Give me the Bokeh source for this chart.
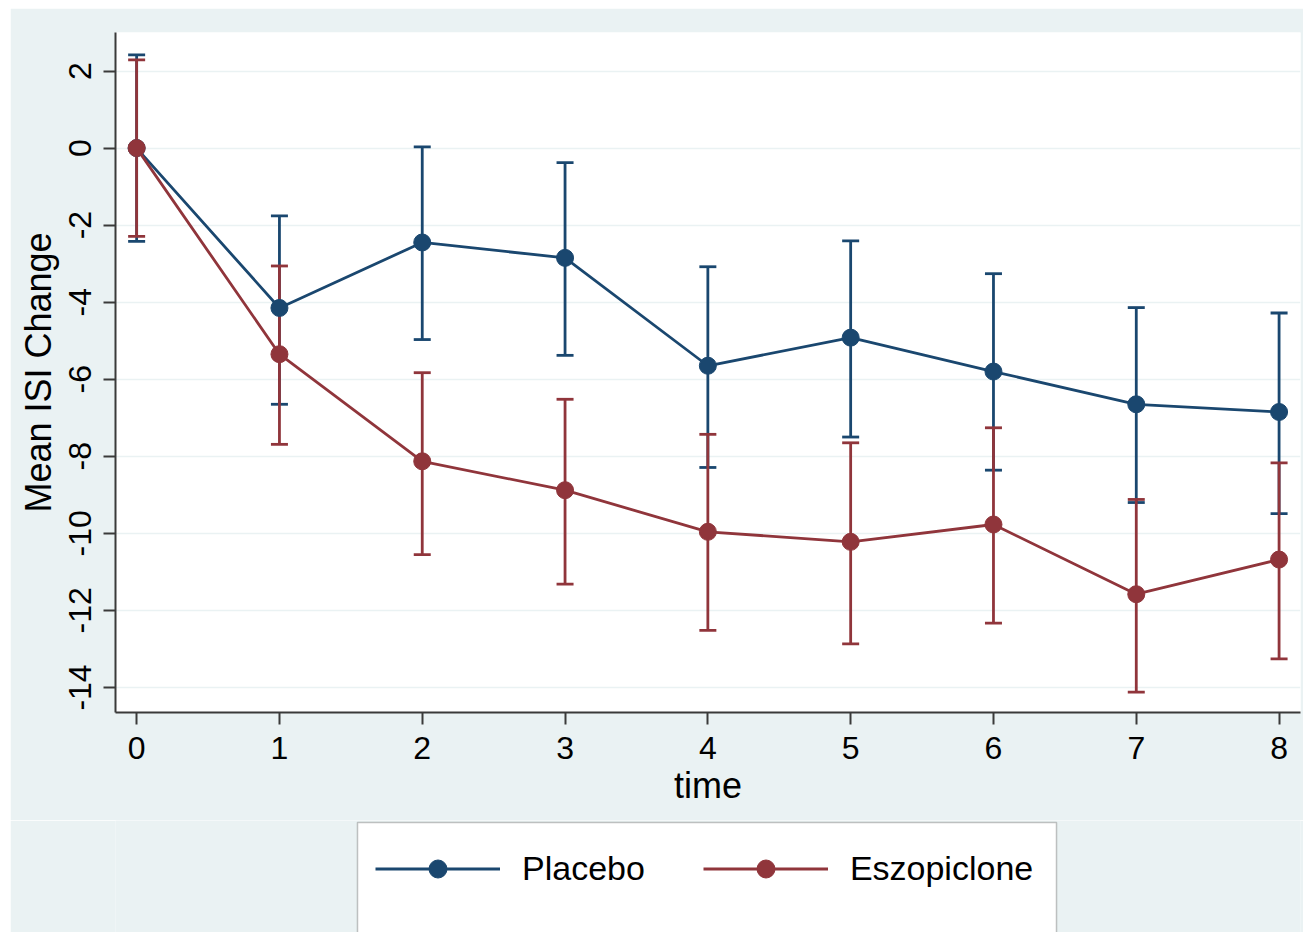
from bokeh.plotting import figure
from bokeh.layouts import column
from bokeh.models import (ColumnDataSource, Whisker, TeeHead, Range1d, FixedTicker,
                          Legend, LegendItem, PrintfTickFormatter, BoxAnnotation)
from bokeh.embed import file_html
from bokeh.resources import INLINE

# ---- data ----
time = [0, 1, 2, 3, 4, 5, 6, 7, 8]
placebo_mean = [0.0, -4.15, -2.45, -2.85, -5.65, -4.92, -5.80, -6.65, -6.85]
placebo_upper = [2.42, -1.76, 0.03, -0.38, -3.08, -2.41, -3.26, -4.14, -4.28]
placebo_lower = [-2.42, -6.65, -4.97, -5.38, -8.29, -7.50, -8.36, -9.20, -9.49]
esz_mean = [0.0, -5.35, -8.13, -8.88, -9.96, -10.22, -9.77, -11.58, -10.68]
esz_upper = [2.29, -3.06, -5.83, -6.52, -7.43, -7.65, -7.26, -9.12, -8.17]
esz_lower = [-2.29, -7.69, -10.55, -11.32, -12.52, -12.87, -12.33, -14.12, -13.26]
x_ticks = [0, 1, 2, 3, 4, 5, 6, 7, 8]
y_ticks = [-14, -12, -10, -8, -6, -4, -2, 0, 2]
series_names = ["Placebo", "Eszopiclone"]

NAVY = "#1a476f"
MAROON = "#90353b"
BG = "#eaf2f3"
AXC = "#3a3a3a"
FONT = "Liberation Sans"
TICK_FS = "32px"
LABEL_FS = "36px"
LEG_FS = "34px"
LW = 2.8

# ---------------- main chart ----------------
p = figure(width=1293, height=812, output_backend="svg", toolbar_location=None,
           x_range=Range1d(-0.148, 8.15), y_range=Range1d(-14.65, 3.0),
           min_border_left=105, min_border_top=24, min_border_right=3,
           min_border_bottom=108, margin=(8, 10, 0, 10))
p.background_fill_color = "white"
p.border_fill_color = BG
p.outline_line_color = None

src_p = ColumnDataSource(dict(x=time, y=placebo_mean, up=placebo_upper, lo=placebo_lower))
src_e = ColumnDataSource(dict(x=time, y=esz_mean, up=esz_upper, lo=esz_lower))

for src, col in ((src_p, NAVY), (src_e, MAROON)):
    w = Whisker(source=src, base="x", upper="up", lower="lo",
                line_color=col, line_width=LW,
                upper_head=TeeHead(size=17, line_color=col, line_width=LW),
                lower_head=TeeHead(size=17, line_color=col, line_width=LW))
    p.add_layout(w)

p.line("x", "y", source=src_p, line_color=NAVY, line_width=LW)
p.scatter("x", "y", source=src_p, size=17, fill_color=NAVY, line_color=NAVY)
p.line("x", "y", source=src_e, line_color=MAROON, line_width=LW)
p.scatter("x", "y", source=src_e, size=17, fill_color=MAROON, line_color=MAROON)

for ax in (p.xaxis[0], p.yaxis[0]):
    ax.axis_line_color = AXC
    ax.axis_line_width = 2
    ax.major_tick_line_color = AXC
    ax.major_tick_line_width = 2
    ax.major_tick_out = 12
    ax.major_tick_in = 0
    ax.minor_tick_line_color = None
    ax.major_label_text_font = FONT
    ax.major_label_text_font_size = TICK_FS
    ax.major_label_text_color = "black"
    ax.axis_label_text_font = FONT
    ax.axis_label_text_font_size = LABEL_FS
    ax.axis_label_text_font_style = "normal"
    ax.axis_label_text_color = "black"
    ax.major_label_standoff = 12
    ax.formatter = PrintfTickFormatter(format="%d")

p.xaxis[0].ticker = FixedTicker(ticks=x_ticks)
p.yaxis[0].ticker = FixedTicker(ticks=y_ticks)
p.xaxis[0].axis_label = "time"
p.xaxis[0].axis_label_standoff = 3
p.yaxis[0].axis_label = "Mean ISI Change"
p.yaxis[0].axis_label_standoff = 8
p.yaxis[0].major_label_orientation = "vertical"

p.xgrid.grid_line_color = None
p.ygrid.grid_line_color = BG
p.ygrid.grid_line_width = 1.5
p.ygrid.ticker = FixedTicker(ticks=y_ticks)

# ---------------- legend strip (frame aligned with main frame) ----------------
LH = 112
q = figure(width=1293, height=LH, output_backend="svg", toolbar_location=None,
           x_range=Range1d(115, 1300), y_range=Range1d(932, 820),
           x_axis_location=None, y_axis_location=None,
           min_border=0, margin=(0, 10, 0, 10))
q.background_fill_color = BG
q.border_fill_color = BG
q.outline_line_color = None
q.xgrid.visible = False
q.ygrid.visible = False

q.add_layout(BoxAnnotation(left=357, right=1056, top=822, bottom=980,
                           fill_color="white", fill_alpha=1.0,
                           line_color=AXC, line_width=1.5, level="underlay"))

# legend renderers reuse the series sources; they fall outside this strip's ranges
r1 = q.line("x", "y", source=src_p, line_color=NAVY, line_width=LW)
r2 = q.scatter("x", "y", source=src_p, size=17, fill_color=NAVY, line_color=NAVY)
r3 = q.line("x", "y", source=src_e, line_color=MAROON, line_width=LW)
r4 = q.scatter("x", "y", source=src_e, size=17, fill_color=MAROON, line_color=MAROON)

legend = Legend(items=[LegendItem(label=series_names[0], renderers=[r1, r2], index=0),
                       LegendItem(label=series_names[1], renderers=[r3, r4], index=0)],
                orientation="horizontal", location=(260, 38),
                glyph_width=125, glyph_height=45, label_height=52,
                label_standoff=22, spacing=58, padding=10, margin=0,
                label_text_font=FONT, label_text_font_size=LEG_FS,
                label_text_color="black",
                border_line_color=None, background_fill_alpha=0.0)
q.add_layout(legend, "center")

layout = column(p, q, spacing=0)
open("out.html", "w").write(file_html(layout, INLINE))
